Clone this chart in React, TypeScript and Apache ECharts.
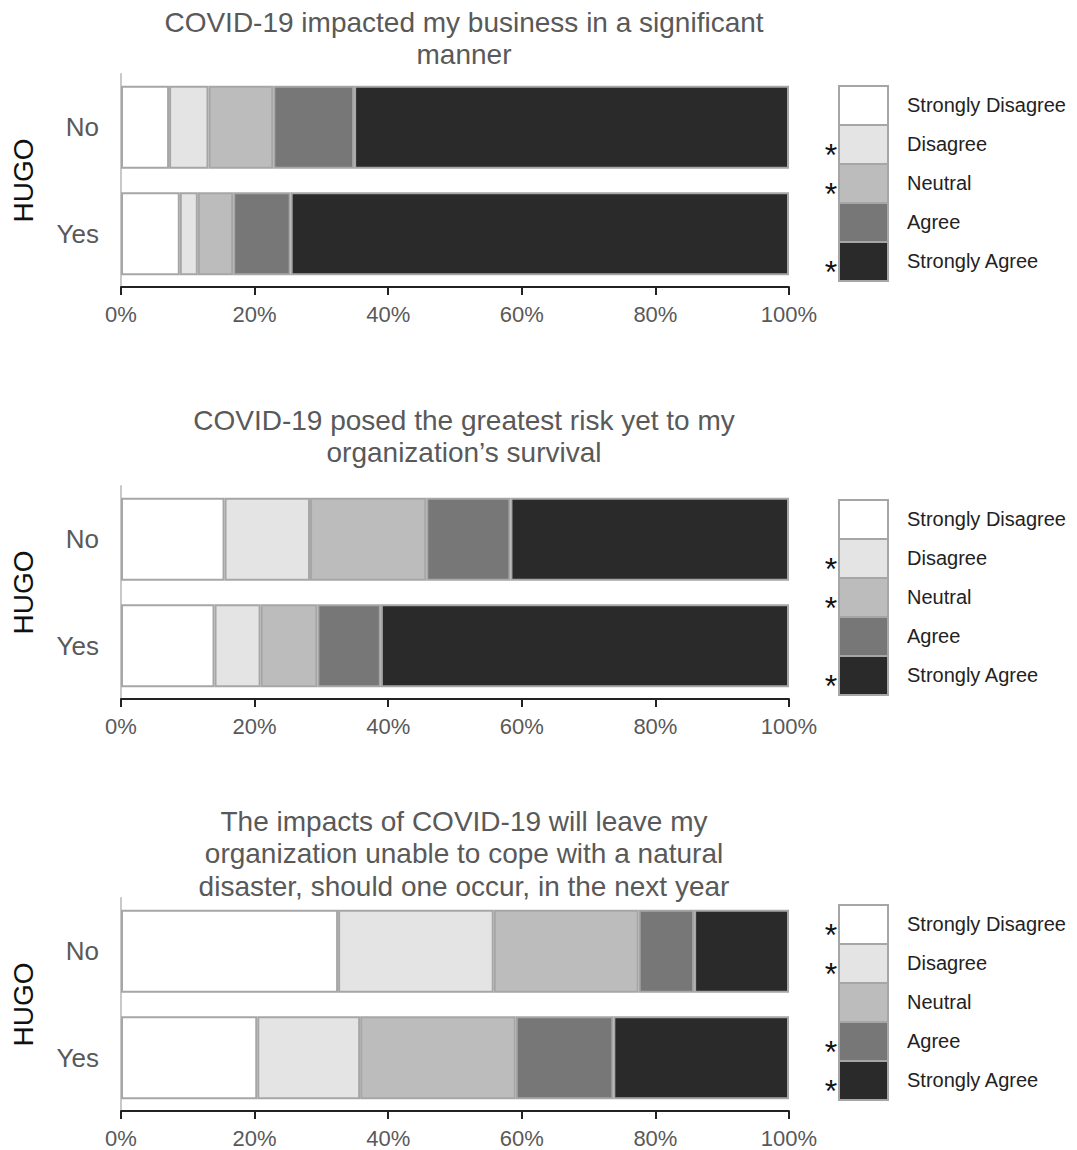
import React, { useEffect, useRef } from "react";
import * as echarts from "echarts";

const categories = ["No", "Yes"];
const levels = ["Strongly Disagree", "Disagree", "Neutral", "Agree", "Strongly Agree"];
const levelColors = ["#ffffff", "#e4e4e4", "#bcbcbc", "#777777", "#2a2a2a"];
const xTicks = [0, 20, 40, 60, 80, 100];

const titles = [
  "COVID-19 impacted my business in a significant\nmanner",
  "COVID-19 posed the greatest risk yet to my\norganization\u2019s survival",
  "The impacts of COVID-19 will leave my\norganization unable to cope with a natural\ndisaster, should one occur, in the next year",
];

// percent per level (SD, D, N, A, SA)
const panel1No = [7.2, 5.9, 9.7, 12.1, 65.1];
const panel1Yes = [8.8, 2.7, 5.3, 8.6, 74.6];
const panel2No = [15.5, 12.8, 17.4, 12.6, 41.7];
const panel2Yes = [14.0, 6.9, 8.5, 9.5, 61.1];
const panel3No = [32.5, 23.3, 21.7, 8.3, 14.2];
const panel3Yes = [20.4, 15.4, 23.3, 14.6, 26.3];

const sig1 = [false, true, true, false, true];
const sig2 = [false, true, true, false, true];
const sig3 = [true, true, false, true, true];

const panels = [
  { no: panel1No, yes: panel1Yes, sig: sig1, title: titles[0] },
  { no: panel2No, yes: panel2Yes, sig: sig2, title: titles[1] },
  { no: panel3No, yes: panel3Yes, sig: sig3, title: titles[2] },
];

const layout = [
  { titleTop: 1, gridTop: 74, legendTop: 86 },
  { titleTop: 399, gridTop: 486, legendTop: 500 },
  { titleTop: 800, gridTop: 898, legendTop: 905 },
];

const FONT = "Liberation Sans, Arial, sans-serif";

export default function App() {
  const ref = useRef<HTMLDivElement>(null);
  useEffect(() => {
    if (!ref.current) return;
    const chart = echarts.init(ref.current, undefined, { renderer: "svg" });
    const gridH = 213;
    const grids: any[] = [];
    const xAxes: any[] = [];
    const yAxes: any[] = [];
    const series: any[] = [];
    const titleOpts: any[] = [];
    const graphics: any[] = [];

    panels.forEach((p, pi) => {
      const L = layout[pi];
      titleOpts.push({
        text: p.title,
        left: 459,
        top: L.titleTop,
        textAlign: "center",
        textStyle: {
          fontFamily: FONT,
          fontSize: 28,
          fontWeight: "normal",
          color: "#595959",
          lineHeight: 32.5,
        },
      });
      grids.push({ left: 121, width: 668, top: L.gridTop, height: gridH, containLabel: false });
      xAxes.push({
        type: "value",
        gridIndex: pi,
        min: xTicks[0],
        max: xTicks[xTicks.length - 1],
        interval: xTicks[1] - xTicks[0],
        axisLine: { show: true, lineStyle: { color: "#222", width: 2 } },
        axisTick: { show: true, length: 8, lineStyle: { color: "#222", width: 2 } },
        splitLine: { show: false },
        axisLabel: {
          formatter: "{value}%",
          fontFamily: FONT,
          fontSize: 22,
          color: "#595959",
          margin: 16,
        },
      });
      yAxes.push({
        type: "category",
        gridIndex: pi,
        data: categories,
        inverse: true,
        axisLine: { show: true, lineStyle: { color: "#c8c8c8", width: 2 } },
        axisTick: { show: false },
        axisLabel: { fontFamily: FONT, fontSize: 26, color: "#595959", margin: 22 },
        name: "HUGO",
        nameLocation: "middle",
        nameGap: 84,
        nameRotate: 90,
        nameTextStyle: { fontFamily: FONT, fontSize: 28, color: "#111" },
      });
      levels.forEach((lv, li) => {
        series.push({
          type: "bar",
          name: lv,
          stack: "p" + pi,
          xAxisIndex: pi,
          yAxisIndex: pi,
          barWidth: 83,
          data: [p.no[li], p.yes[li]],
          itemStyle: { color: levelColors[li], borderColor: "#a6a6a6", borderWidth: 2 },
          emphasis: { disabled: true },
        });
      });

      // legend
      const boxH = 39;
      levels.forEach((lv, li) => {
        const y = L.legendTop + li * boxH;
        graphics.push({
          type: "rect",
          shape: { x: 839, y, width: 49, height: boxH },
          style: { fill: levelColors[li], stroke: "#a6a6a6", lineWidth: 2 },
          z: 10,
        });
        graphics.push({
          type: "text",
          x: 907,
          y: y + boxH / 2 - 1,
          style: {
            text: lv,
            fontFamily: FONT,
            fontSize: 20,
            fill: "#222",
            textVerticalAlign: "middle",
            textAlign: "left",
          },
          z: 10,
        });
        if (p.sig[li]) {
          graphics.push({
            type: "text",
            x: 831,
            y: y + boxH / 2 + 10,
            style: {
              text: "*",
              fontFamily: FONT,
              fontSize: 32,
              fill: "#111",
              textVerticalAlign: "middle",
              textAlign: "center",
            },
            z: 10,
          });
        }
      });
    });

    chart.setOption({
      animation: false,
      backgroundColor: "#ffffff",
      title: titleOpts,
      grid: grids,
      xAxis: xAxes,
      yAxis: yAxes,
      series,
      graphic: graphics,
    });
    return () => chart.dispose();
  }, []);
  return (
    <div
      ref={ref}
      style={{ position: "absolute", left: 0, top: 0, width: 1077, height: 1150 }}
    />
  );
}
